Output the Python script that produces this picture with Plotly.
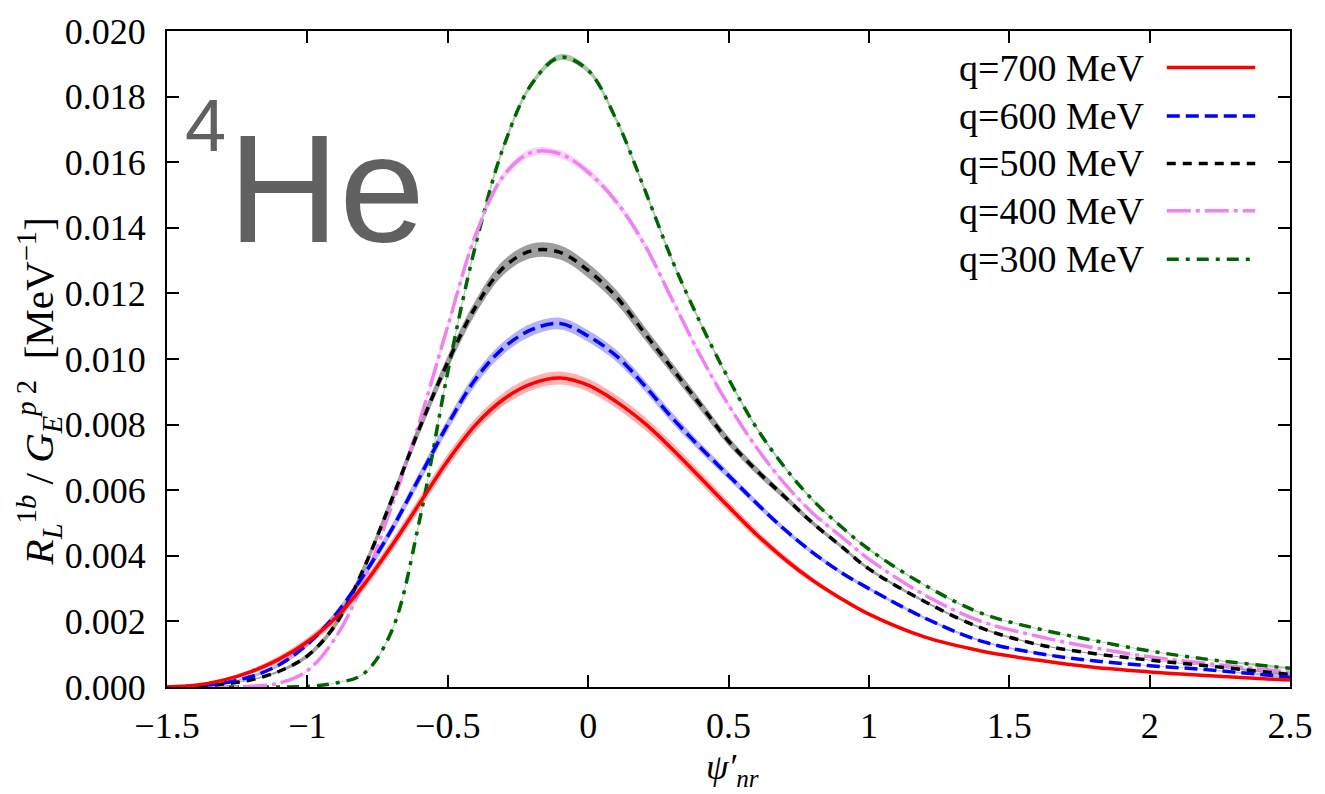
import plotly.graph_objects as go

# ---------------- data ----------------
PSI = [-1.5, -1.4, -1.3, -1.2, -1.1, -1.0, -0.9, -0.8, -0.7, -0.6, -0.5, -0.4, -0.3,
       -0.2, -0.1, 0.0, 0.1, 0.2, 0.3, 0.4, 0.5, 0.6, 0.7, 0.8, 0.9, 1.0, 1.2, 1.4,
       1.6, 1.8, 2.0, 2.2, 2.5]

R_700 = [0.0, 0.00005, 0.00021, 0.00047, 0.00085, 0.00138, 0.0021, 0.0031, 0.0043,
         0.0056, 0.0069, 0.0080, 0.00878, 0.00925, 0.00942, 0.0092, 0.0087, 0.00805,
         0.00725, 0.00638, 0.0055, 0.00465, 0.0039, 0.00325, 0.0027, 0.00222, 0.00152,
         0.0011, 0.00082, 0.0006, 0.00046, 0.00035, 0.00021]
R_600 = [0.0, 0.00003, 0.00012, 0.00032, 0.00068, 0.0013, 0.0022, 0.0034, 0.0048,
         0.0064, 0.0080, 0.0094, 0.01035, 0.0109, 0.01108, 0.0107, 0.0101, 0.0092,
         0.0082, 0.0073, 0.00645, 0.0056, 0.0048, 0.0041, 0.0035, 0.0030, 0.0021,
         0.0014, 0.00103, 0.0008, 0.00065, 0.00053, 0.0003]
R_500 = [0.0, 0.00002, 0.00009, 0.00022, 0.00048, 0.00095, 0.0019, 0.0036, 0.0057,
         0.0079, 0.0099, 0.0116, 0.0128, 0.0133, 0.01325, 0.0127, 0.0119, 0.0108,
         0.0097, 0.0086, 0.0075, 0.0066, 0.0058, 0.0050, 0.0043, 0.0036, 0.0026,
         0.0018, 0.0013, 0.00102, 0.00082, 0.00065, 0.00038]
R_400 = [0.0, 0.0, 0.0, 0.00002, 0.00012, 0.0005, 0.0015, 0.0032, 0.0055, 0.0081,
         0.0110, 0.0138, 0.0156, 0.0163, 0.01625, 0.0157, 0.0148, 0.0135, 0.0118,
         0.0101, 0.0086, 0.0073, 0.0062, 0.0053, 0.0046, 0.0039, 0.0028, 0.0020,
         0.00155, 0.0012, 0.00092, 0.00072, 0.00045]
R_300 = [0.0, 0.0, 0.0, 0.0, 0.0, 0.00002, 0.00012, 0.0004, 0.0017, 0.0051, 0.0096,
         0.0135, 0.0165, 0.0184, 0.0192, 0.0188, 0.0173, 0.0152, 0.0130, 0.0111,
         0.0094, 0.0079, 0.0067, 0.0057, 0.0049, 0.0042, 0.0031, 0.00225, 0.00178,
         0.00142, 0.0011, 0.00085, 0.00057]

# uncertainty half-widths of the shaded bands
ERR_700 = [0, 0.00001, 0.00004, 0.00007, 0.0001, 0.00012, 0.00014, 0.00016, 0.00018,
           0.00019, 0.0002, 0.0002, 0.0002, 0.0002, 0.0002, 0.0002, 0.0002, 0.0002,
           0.00019, 0.00018, 0.00016, 0.00014, 0.00011, 0.00009, 0.00007, 0.00005,
           0.00004, 0.00003, 0.00002, 0.00002, 0.00001, 0.00001, 0.00001]
ERR_600 = [0, 0, 0.00002, 0.00004, 0.00006, 0.00008, 0.0001, 0.00013, 0.00015, 0.00017,
           0.00018, 0.00019, 0.00019, 0.00019, 0.00018, 0.00018, 0.00018, 0.00017,
           0.00016, 0.00014, 0.00012, 0.0001, 0.00008, 0.00007, 0.00006, 0.00005,
           0.00004, 0.00003, 0.00002, 0.00001, 0.00001, 0.00001, 0.00001]
ERR_500 = [0, 0, 0.00001, 0.00002, 0.00004, 0.00007, 0.0001, 0.00013, 0.00016, 0.00018,
           0.0002, 0.00021, 0.00022, 0.00022, 0.00022, 0.00022, 0.00021, 0.0002, 0.00018,
           0.00016, 0.00014, 0.00012, 0.0001, 0.00008, 0.00006, 0.00005, 0.00004,
           0.00003, 0.00002, 0.00002, 0.00001, 0.00001, 0.00001]
ERR_400 = [0, 0, 0, 0, 0.00001, 0.00002, 0.00004, 0.00006, 0.00008, 0.0001, 0.00011,
           0.00011, 0.00012, 0.00012, 0.00012, 0.00012, 0.00011, 0.00011, 0.0001, 0.00009,
           0.00008, 0.00007, 0.00006, 0.00005, 0.00004, 0.00003, 0.00002, 0.00002,
           0.00001, 0.00001, 0.00001, 0.00001, 0.00001]
ERR_300 = [0, 0, 0, 0, 0, 0, 0.00001, 0.00002, 0.00004, 0.00006, 0.00007, 0.00008,
           0.00009, 0.00009, 0.00009, 0.00009, 0.00008, 0.00008, 0.00007, 0.00006,
           0.00005, 0.00005, 0.00004, 0.00004, 0.00003, 0.00003, 0.00002, 0.00002,
           0.00001, 0.00001, 0.00001, 0.00001, 0.00001]

SERIES_NAMES = ["q=700 MeV", "q=600 MeV", "q=500 MeV", "q=400 MeV", "q=300 MeV"]

X_TICKS = [-1.5, -1.0, -0.5, 0.0, 0.5, 1.0, 1.5, 2.0, 2.5]
X_TICK_LABELS = ["\u22121.5", "\u22121", "\u22120.5", "0", "0.5", "1", "1.5", "2", "2.5"]
Y_TICKS = [0.000, 0.002, 0.004, 0.006, 0.008, 0.010, 0.012, 0.014, 0.016, 0.018, 0.020]

# ---------------- styles ----------------
values = [R_700, R_600, R_500, R_400, R_300]
errors = [ERR_700, ERR_600, ERR_500, ERR_400, ERR_300]
line_colors = ["#ff0000", "#0000ff", "#000000", "#ee82ee", "#006400"]
band_colors = ["rgba(255,0,0,0.30)", "rgba(0,0,255,0.30)", "rgba(0,0,0,0.38)",
               "rgba(238,130,238,0.35)", "rgba(0,100,0,0.35)"]
dashes = ["solid", "13px,6px", "9px,7px", "24px,5px,4px,5px", "12px,7px,4px,7px"]

SERIF = "Liberation Serif, Times New Roman, serif"
SMOOTH = 1.0
LW = 3.5

fig = go.Figure()

draw_order = [4, 3, 2, 1, 0]
for i in draw_order:
    y = values[i]
    e = errors[i]
    upper = [v + d for v, d in zip(y, e)]
    lower = [v - d for v, d in zip(y, e)]
    fig.add_trace(go.Scatter(
        x=PSI + PSI[::-1], y=upper + lower[::-1], fill="toself",
        fillcolor=band_colors[i], line=dict(width=0, shape="spline", smoothing=SMOOTH),
        hoverinfo="skip", showlegend=False, mode="lines"))
for i in draw_order:
    fig.add_trace(go.Scatter(
        x=PSI, y=values[i], mode="lines", name=SERIES_NAMES[i],
        line=dict(color=line_colors[i], width=LW, dash=dashes[i],
                  shape="spline", smoothing=SMOOTH),
        showlegend=False))

# ---------------- layout ----------------
L, R, T, B = 167, 28, 23, 107
W, H = 1325, 794
PW, PH = W - L - R, H - T - B


def px_x(p):
    return (p - L) / PW


def px_y(p):
    return (H - B - p) / PH


annotations = []
shapes = []
leg_y = [60, 109, 157, 205, 254]
for k, i in enumerate(range(5)):
    yy = px_y(leg_y[k])
    annotations.append(dict(
        x=px_x(1153), y=yy, xref="paper", yref="paper", xanchor="right",
        yanchor="middle", text=SERIES_NAMES[i], showarrow=False,
        font=dict(family=SERIF, size=38, color="#000000")))
    shapes.append(dict(
        type="line", xref="paper", yref="paper", x0=px_x(1173), x1=px_x(1262),
        y0=yy, y1=yy, line=dict(color=line_colors[i], width=LW, dash=dashes[i])))

# 4He label
annotations.append(dict(
    x=px_x(226), y=px_y(183), xref="paper", yref="paper", xanchor="left",
    yanchor="middle", text="He", showarrow=False,
    font=dict(family="Liberation Sans, Arial, sans-serif", size=154, color="#616161")))
annotations.append(dict(
    x=px_x(183), y=px_y(119), xref="paper", yref="paper", xanchor="left",
    yanchor="middle", text="4", showarrow=False,
    font=dict(family="Liberation Sans, Arial, sans-serif", size=74, color="#616161")))

# axis titles
annotations.append(dict(
    x=px_x(38), y=px_y(388), xref="paper", yref="paper", xanchor="center",
    yanchor="middle", textangle=-90, showarrow=False,
    text="<i>R</i><sub><i>L</i></sub><sup>1<i>b</i></sup> / <i>G</i><sub><i>E</i></sub>"
         "<sup><i>p</i> 2</sup>  [MeV<sup>\u22121</sup>]",
    font=dict(family=SERIF, size=41, color="#000000")))
annotations.append(dict(
    x=px_x(736), y=px_y(770), xref="paper", yref="paper", xanchor="center",
    yanchor="middle", showarrow=False,
    text="<i>\u03c8\u2032</i><sub><i>nr</i></sub>",
    font=dict(family=SERIF, size=36, color="#000000")))

axis_common = dict(
    showgrid=False, zeroline=False, showline=True, linecolor="#000000", linewidth=2,
    mirror="ticks", ticks="inside", ticklen=12, tickwidth=1.5, tickcolor="#000000",
    tickfont=dict(family=SERIF, size=36, color="#000000"))

fig.update_layout(
    width=W, height=H, margin=dict(l=L, r=R, t=T, b=B),
    paper_bgcolor="white", plot_bgcolor="white",
    xaxis=dict(range=[-1.5, 2.5], tickvals=X_TICKS, ticktext=X_TICK_LABELS,
               ticklabelstandoff=6, **axis_common),
    yaxis=dict(range=[0, 0.020], tickvals=Y_TICKS, tickformat=".3f",
               ticklabelstandoff=12, **axis_common),
    annotations=annotations, shapes=shapes, showlegend=False)

fig.write_html("out.html")
